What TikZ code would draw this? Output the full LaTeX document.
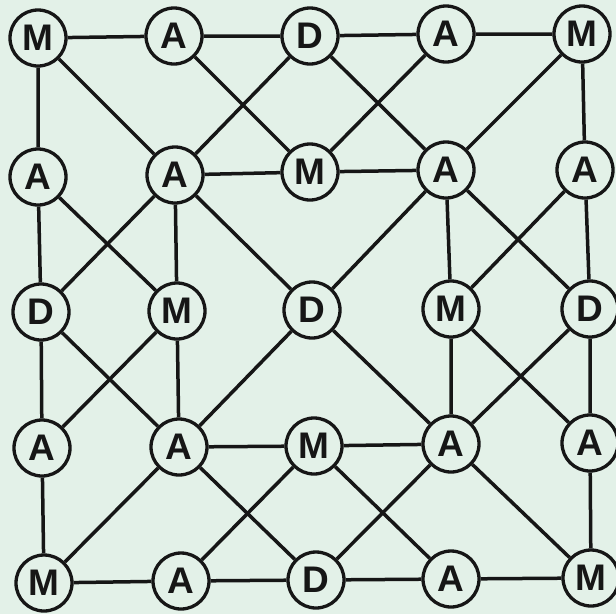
\documentclass[tikz,border=0pt]{standalone}
\usepackage{fontspec}
\setmainfont{Liberation Sans}
\definecolor{paper}{RGB}{227,241,232}
\definecolor{ink}{RGB}{22,22,22}
\pgfdeclarelayer{bg}
\pgfsetlayers{bg,main}
\begin{document}
\begin{tikzpicture}[x=1pt,y=-1pt,
  cell/.style={circle,draw=ink,line width=3.3pt,minimum size=56pt,inner sep=0pt,
    fill=paper,text=ink,font=\bfseries\fontsize{37}{37}\selectfont},
  link/.style={draw=ink,line width=3.5pt}]
\useasboundingbox (0,0) rectangle (616,614);
\begin{scope}
\clip (0,0) rectangle (616,614);
% row 0
\node[cell] (n00) at (38,38) {M};
\node[cell] (n01) at (174,36) {A};
\node[cell] (n02) at (310,36) {D};
\node[cell] (n03) at (446,34) {A};
\node[cell] (n04) at (582,34) {M};
% row 1
\node[cell] (n10) at (38,177) {A};
\node[cell] (n11) at (175,175) {A};
\node[cell] (n12) at (310,172) {M};
\node[cell] (n13) at (446,170) {A};
\node[cell] (n14) at (585,170) {A};
% row 2
\node[cell] (n20) at (41,312) {D};
\node[cell] (n21) at (177,311) {M};
\node[cell] (n22) at (312,310) {D};
\node[cell] (n23) at (451,309) {M};
\node[cell] (n24) at (590,309) {D};
% row 3
\node[cell] (n30) at (42,448) {A};
\node[cell] (n31) at (179,447) {A};
\node[cell] (n32) at (314,446) {M};
\node[cell] (n33) at (451,444) {A};
\node[cell] (n34) at (590,443) {A};
% row 4
\node[cell] (n40) at (44,583) {M};
\node[cell] (n41) at (181,581) {A};
\node[cell] (n42) at (316,580) {D};
\node[cell] (n43) at (451,579) {A};
\node[cell] (n44) at (591,578) {M};
\begin{pgfonlayer}{bg}
\fill[paper] (0,0) rectangle (616,614);
% border
\draw[link] (n00)--(n01) (n01)--(n02) (n02)--(n03) (n03)--(n04);
\draw[link] (n40)--(n41) (n41)--(n42) (n42)--(n43) (n43)--(n44);
\draw[link] (n00)--(n10) (n10)--(n20) (n20)--(n30) (n30)--(n40);
\draw[link] (n04)--(n14) (n14)--(n24) (n24)--(n34) (n34)--(n44);
% hub n11
\draw[link] (n00)--(n11) (n02)--(n11) (n11)--(n12) (n11)--(n20) (n11)--(n21) (n11)--(n22);
% hub n13
\draw[link] (n04)--(n13) (n02)--(n13) (n12)--(n13) (n13)--(n22) (n13)--(n23) (n13)--(n24);
% hub n31
\draw[link] (n20)--(n31) (n21)--(n31) (n22)--(n31) (n31)--(n32) (n31)--(n40) (n31)--(n42);
% hub n33
\draw[link] (n22)--(n33) (n23)--(n33) (n24)--(n33) (n32)--(n33) (n33)--(n42) (n33)--(n44);
% crossing links
\draw[link] (n01)--(n12) (n03)--(n12);
\draw[link] (n10)--(n21) (n30)--(n21);
\draw[link] (n14)--(n23) (n34)--(n23);
\draw[link] (n32)--(n41) (n32)--(n43);
\end{pgfonlayer}
\end{scope}
\end{tikzpicture}
\end{document}
